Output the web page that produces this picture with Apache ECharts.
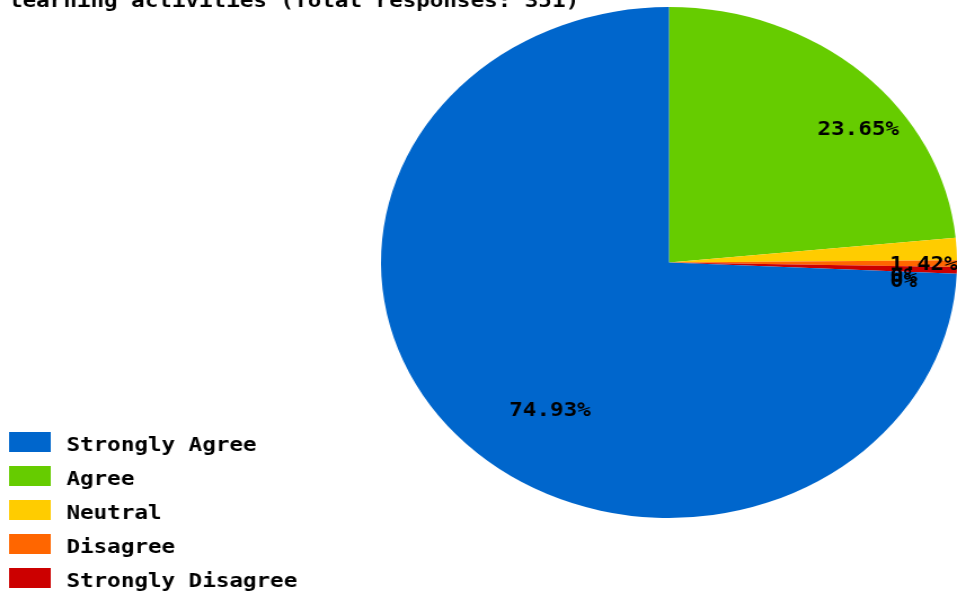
<!DOCTYPE html>
<html>
<head>
<meta charset="utf-8">
<script src="https://cdn.jsdelivr.net/npm/echarts@6/dist/echarts.min.js"></script>
<style>
  html, body { margin: 0; padding: 0; background: #fff; overflow: hidden; width: 957px; height: 594px; }
  #c { width: 849px; height: 594px; transform: scaleX(1.1272); transform-origin: 0 0; }
</style>
</head>
<body>
<div id="c"></div>
<script>
// ---- data ----
const titleText = 'learning activities (Total responses: 351)';
const categories = ['Strongly Agree', 'Agree', 'Neutral', 'Disagree', 'Strongly Disagree'];
const counts = [263, 83, 5, 0, 0];
const colors = ['#0066CC', '#66CC00', '#FFCC00', '#FF6600', '#CC0000'];
// drawing order clockwise from 12 o'clock
const drawOrder = [1, 2, 3, 4, 0];

// ---- layout ----
const CX = 593.5, CY = 262.5, R = 255.5;
const FONT = '"DejaVu Sans Mono", "Liberation Mono", monospace';

const pieData = drawOrder.map(i => ({
  name: categories[i],
  value: counts[i],
  itemStyle: { color: colors[i] }
}));

const legendBase = {
  orient: 'vertical',
  left: 8,
  padding: 0,
  itemWidth: 37,
  itemHeight: 20,
  itemGap: 14,
  icon: 'rect',
  selectedMode: false,
  data: categories
};

const chart = echarts.init(document.getElementById('c'));
chart.setOption({
  animation: false,
  backgroundColor: '#ffffff',
  title: {
    text: titleText,
    left: 8,
    top: -8,
    padding: 0,
    textStyle: { fontFamily: FONT, fontSize: 20, fontWeight: 'bold', color: '#000' }
  },
  legend: [
    Object.assign({}, legendBase, {
      top: 432,
      formatter: () => '',
      textStyle: { fontSize: 1 }
    }),
    Object.assign({}, legendBase, {
      top: 436,
      itemStyle: { opacity: 0 },
      textStyle: { fontFamily: FONT, fontSize: 20, fontWeight: 'bold', color: '#000', padding: [0, 0, 0, 9] }
    })
  ],
  series: [{
    type: 'pie',
    center: [CX, CY],
    radius: R,
    startAngle: 90,
    clockwise: true,
    minAngle: 1.5,
    avoidLabelOverlap: false,
    silent: true,
    emphasis: { disabled: true },
    data: pieData,
    label: {
      show: true,
      position: 'inside',
      formatter: '{d}%',
      fontFamily: FONT,
      fontSize: 20,
      fontWeight: 'bold',
      color: '#000',
      textBorderWidth: 0
    },
    labelLine: { show: false },
    labelLayout: function (p) {
      const r = p.labelRect;
      const mx = r.x + r.width / 2, my = r.y + r.height / 2;
      return {
        x: CX + (mx - CX) * 1.5,
        y: CY + (my - CY) * 1.5 + 3,
        align: 'left',
        verticalAlign: 'top'
      };
    }
  }]
});
</script>
</body>
</html>
